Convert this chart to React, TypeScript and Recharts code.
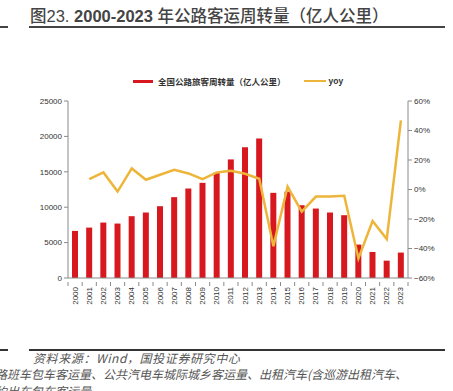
import React from "react";
import {
  Bar,
  ComposedChart,
  Line,
  XAxis,
  YAxis,
} from "recharts";

const years = [
  "2000", "2001", "2002", "2003", "2004", "2005", "2006", "2007",
  "2008", "2009", "2010", "2011", "2012", "2013", "2014", "2015",
  "2016", "2017", "2018", "2019", "2020", "2021", "2022", "2023",
];

// 全国公路旅客周转量（亿人公里）
const turnover = [
  6650, 7120, 7830, 7690, 8730, 9250, 10140, 11420,
  12640, 13440, 14900, 16750, 18450, 19720, 12030, 12200,
  10280, 9810, 9250, 8870, 4720, 3680, 2450, 3590,
];

// yoy (%)
const yoy = [
  null, 7.0, 11.6, -1.4, 14.3, 6.6, 10.0, 13.4,
  10.9, 7.0, 11.6, 12.7, 10.7, 7.3, -38.4, 2.0,
  -15.0, -4.8, -4.8, -4.3, -46.8, -21.4, -33.6, 46.8,
];

const leftTicks = [0, 5000, 10000, 15000, 20000, 25000];
const rightTicks = [-60, -40, -20, 0, 20, 40, 60];

const RED = "#d7191f";
const GOLD = "#edb53a";
const AXIS = "#8a8a8a";
const TXT = "#333";
const SANS = "Liberation Sans, Arial, sans-serif";

const data = years.map((y, i) => ({ year: y, turnover: turnover[i], yoy: yoy[i] }));

const PLOT_W = 340;
const BAND = PLOT_W / years.length;

const XTick = (props: any) => {
  const { x, y, payload, index } = props;
  const left = x - BAND / 2;
  return (
    <g>
      <line x1={left} y1={y - 4} x2={left} y2={y} stroke={AXIS} />
      {index === years.length - 1 && (
        <line x1={left + BAND} y1={y - 4} x2={left + BAND} y2={y} stroke={AXIS} />
      )}
      <text
        transform={`translate(${x},${y + 1}) rotate(-90)`}
        textAnchor="end"
        dominantBaseline="central"
        fontSize={8}
        fill={TXT}
        fontFamily={SANS}
      >
        {payload.value}
      </text>
    </g>
  );
};

const pct = (v: number) => (v < 0 ? `\u2212${-v}%` : `${v}%`);

const footStyle: React.CSSProperties = {
  position: "absolute",
  fontSize: 12,
  fontStyle: "italic",
  color: "#555",
  whiteSpace: "nowrap",
  lineHeight: "16px",
};

export default function App() {
  return (
    <div
      style={{
        position: "absolute",
        left: 0,
        top: 0,
        width: 453,
        height: 391,
        overflow: "hidden",
        background: "#fff",
        fontFamily: "'Noto Sans CJK SC', sans-serif",
      }}
    >
      <div
        style={{
          position: "absolute",
          left: 30,
          top: 4,
          fontSize: 16.5,
          color: "#444",
          whiteSpace: "nowrap",
          lineHeight: "22px",
          fontWeight: 500,
        }}
      >
        图<span style={{ fontFamily: SANS }}>23. </span>
        <span style={{ fontFamily: SANS, fontWeight: 700 }}>2000-2023 </span>
        年公路客运周转量（亿人公里）
      </div>
      <div style={{ position: "absolute", left: 0, top: 26, width: 8, height: 1.5, background: "#444" }} />
      <div style={{ position: "absolute", left: 29, top: 26, width: 416, height: 1.5, background: "#444" }} />

      <div
        style={{
          position: "absolute",
          top: 75,
          left: 0,
          width: 453,
          display: "flex",
          alignItems: "center",
          fontSize: 8.5,
          lineHeight: "12px",
          color: TXT,
          fontWeight: 600,
        }}
      >
        <span style={{ width: 20, height: 3, background: RED, marginLeft: 133, marginRight: 5 }} />
        <span>全国公路旅客周转量（亿人公里）</span>
        <span style={{ width: 22, height: 2.5, background: GOLD, marginLeft: 18, marginRight: 3 }} />
        <span style={{ fontFamily: SANS }}>yoy</span>
      </div>

      <ComposedChart
        width={453}
        height={391}
        data={data}
        margin={{ top: 101, right: 0, bottom: 83, left: 0 }}
        style={{ position: "absolute", left: 0, top: 0 }}
      >
        <XAxis
          dataKey="year"
          interval={0}
          tickLine={false}
          axisLine={{ stroke: AXIS }}
          tick={<XTick />}
          height={30}
        />
        <YAxis
          yAxisId="left"
          width={68}
          domain={[0, 25000]}
          ticks={leftTicks}
          interval={0}
          axisLine={{ stroke: AXIS }}
          tickLine={{ stroke: AXIS }}
          tickSize={4}
          tick={{ fontSize: 8, fill: TXT, fontFamily: SANS }}
        />
        <YAxis
          yAxisId="right"
          orientation="right"
          width={45}
          domain={[-60, 60]}
          ticks={rightTicks}
          interval={0}
          axisLine={{ stroke: AXIS }}
          tickLine={{ stroke: AXIS }}
          tickSize={4}
          tickFormatter={pct}
          tick={{ fontSize: 8, fill: TXT, fontFamily: SANS }}
        />
        <Bar
          yAxisId="left"
          dataKey="turnover"
          fill={RED}
          barSize={6}
          isAnimationActive={false}
        />
        <Line
          yAxisId="right"
          dataKey="yoy"
          stroke={GOLD}
          strokeWidth={2.5}
          dot={false}
          type="linear"
          isAnimationActive={false}
        />
      </ComposedChart>

      <div style={{ position: "absolute", left: 0, top: 349, width: 8, height: 1.5, background: "#333" }} />
      <div style={{ position: "absolute", left: 29, top: 349, width: 416, height: 1.5, background: "#333" }} />
      <div style={{ ...footStyle, left: 33, top: 350, letterSpacing: 0.6 }}>
        资料来源：Wind，国投证券研究中心
      </div>
      <div style={{ ...footStyle, left: -5, top: 366, letterSpacing: 0 }}>
        路班车包车客运量、公共汽电车城际城乡客运量、出租汽车(含巡游出租汽车、
      </div>
      <div style={{ ...footStyle, left: -5, top: 383, letterSpacing: 0 }}>
        约出车包车客运量
      </div>
    </div>
  );
}
